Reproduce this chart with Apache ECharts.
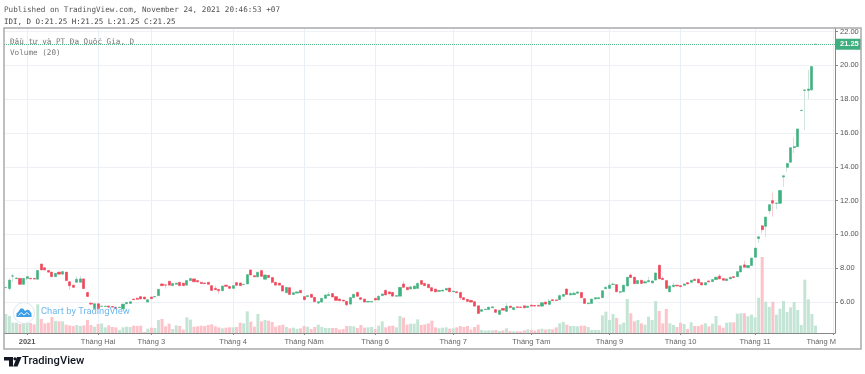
<!DOCTYPE html>
<html><head><meta charset="utf-8">
<style>html,body{margin:0;padding:0;background:#fff}#c{width:865px;height:374px}</style>
<script src="https://cdn.jsdelivr.net/npm/echarts@6/dist/echarts.min.js"></script>
</head><body><div id="c"></div>
<script>
const opens = [6.85,6.8,7.53,7.38,7.4,7.05,7.4,7.41,7.4,7.35,8.25,8.03,7.87,7.77,7.5,7.77,7.65,7.77,7.2,7.0,
7.17,7.17,7.37,6.57,5.93,5.62,5.9,5.75,5.74,5.76,5.74,5.7,5.68,5.6,5.9,5.92,6.18,6.22,6.32,6.3,
6.0,6.3,6.3,6.38,7.07,7.02,7.23,6.97,7.05,7.17,7.12,7.0,7.27,7.37,7.27,7.17,7.13,7.17,6.97,6.81,
6.75,6.67,7.0,6.93,6.81,7.15,7.13,7.03,7.07,7.9,7.56,7.49,7.86,7.35,7.58,7.45,7.17,7.12,6.97,6.55,
6.85,6.45,6.53,6.69,6.32,6.32,6.46,6.28,5.94,6.0,6.22,6.38,6.5,6.32,6.18,6.12,6.04,5.88,6.26,6.57,
6.26,6.18,6.0,6.01,6.22,6.12,6.38,6.69,6.6,6.57,6.34,6.35,7.07,6.87,6.77,6.78,6.81,7.27,7.1,7.05,
6.85,6.77,6.63,6.65,6.71,6.83,6.61,6.61,6.57,6.26,6.16,6.1,6.02,5.78,5.45,5.55,5.56,5.66,5.55,5.27,
5.62,5.45,5.76,5.56,5.72,5.71,5.78,5.68,5.82,5.8,5.81,5.76,6.0,5.86,6.14,6.13,6.14,6.34,6.77,
6.42,6.44,6.52,6.57,6.2,5.9,5.92,6.18,6.2,6.26,6.79,6.81,7.04,7.03,6.58,6.61,6.95,7.6,7.47,7.09,
7.29,7.13,7.2,7.13,7.3,8.18,7.4,7.27,6.61,6.91,7.0,6.97,6.99,7.15,7.17,7.35,7.35,7.15,7.01,7.25,
7.21,7.33,7.54,7.39,7.27,7.37,7.5,7.5,7.78,8.2,8.04,8.16,8.65,9.76,10.51,10.48,11.4,12.0,11.84,11.84,
13.4,13.97,14.27,15.13,15.19,17.33,18.52,18.52,18.55,21.25];
const closes = [6.87,7.3,7.55,7.42,7.05,7.4,7.5,7.37,7.36,7.87,7.9,7.9,7.77,7.5,7.7,7.65,7.8,7.27,6.97,6.87,
7.35,7.37,6.8,6.33,5.88,5.9,5.62,5.76,5.76,5.7,5.7,5.62,5.7,5.88,5.98,6.02,6.14,6.16,6.18,6.18,
6.14,6.2,6.33,6.75,6.97,7.0,7.0,7.1,7.12,6.97,6.97,7.27,7.39,7.2,7.19,7.09,7.09,7.05,6.69,6.73,
6.67,6.95,6.93,6.81,6.97,6.99,6.97,7.05,7.62,7.6,7.49,7.76,7.52,7.6,7.45,7.17,7.0,7.0,6.65,6.87,
6.45,6.55,6.6,6.55,6.14,6.38,6.28,6.02,6.02,6.22,6.42,6.45,6.3,6.1,6.08,6.06,5.84,6.26,6.46,6.34,
6.16,6.0,6.04,6.04,6.12,6.34,6.48,6.42,6.48,6.35,6.38,6.87,6.87,6.73,6.9,6.95,7.1,7.05,6.97,6.85,
6.65,6.6,6.69,6.71,6.81,6.61,6.65,6.55,6.26,6.14,6.04,6.0,5.76,5.33,5.55,5.58,5.7,5.72,5.39,5.52,
5.52,5.76,5.68,5.68,5.68,5.68,5.66,5.76,5.76,5.76,5.76,5.96,5.88,6.06,6.08,6.09,6.38,6.45,6.45,
6.5,6.52,6.6,6.26,5.92,5.94,6.18,6.26,6.26,6.67,6.87,7.0,7.06,6.61,6.62,7.0,7.47,7.45,7.09,7.27,
7.1,7.2,7.27,7.25,7.72,7.37,7.33,6.81,6.95,7.0,6.95,6.91,7.07,7.07,7.29,7.27,7.13,7.01,7.15,7.19,
7.33,7.47,7.37,7.29,7.37,7.47,7.45,7.8,8.14,8.06,8.16,8.6,9.19,9.86,10.28,11.03,11.76,11.85,11.86,12.6,
13.47,14.2,15.13,15.2,16.24,17.35,18.55,18.6,19.93,21.25];
const highValues = {1:7.4,2:7.68,3:7.48,10:8.27,18:7.22,20:7.5,21:7.55,24:6.03,29:5.8,37:6.3,38:6.36,44:7.12,46:7.25,47:7.12,51:7.3,52:7.45,59:6.97,71:7.8,72:7.9,73:7.62,91:6.6,92:6.52,97:6.3,99:6.6,105:6.4,107:6.75,112:7.25,114:6.85,116:7.15,117:7.3,122:6.7,141:5.95,151:6.0,153:6.2,156:6.45,158:6.8,159:6.6,160:6.62,169:6.95,170:7.18,171:7.17,176:7.7,180:7.3,181:7.5,183:7.75,184:8.2,185:7.5,188:7.15,191:7.1,193:7.2,195:7.4,199:7.35,200:7.5,201:7.66,205:7.52,208:8.45,212:9.88,213:10.55,216:12.47,218:12.62,222:15.74,225:18.54,226:19.73};
const lowValues = {1:6.67,2:7.2,6:7.3,18:6.72,22:6.78,24:5.8,26:5.55,45:6.8,49:6.95,58:6.65,60:6.47,75:7.1,88:5.9,96:5.75,97:5.85,128:6.12,133:5.3,141:5.4,142:5.6,143:5.5,151:5.72,172:6.6,173:6.45,174:6.6,186:6.8,187:6.58,212:9.5,213:10.05,214:9.85,215:11.2,216:11.05,217:11.5,218:11.8,219:12.82,220:13.7,221:14.25,222:14.8,224:17.3,225:16.18,226:18.0,227:18.5};
const volumes = [570,510,310,310,270,290,300,300,260,860,420,290,310,480,360,350,350,250,230,210,
240,210,230,390,240,190,270,290,170,230,180,170,90,170,190,180,220,210,220,30,
130,160,150,390,420,200,280,120,230,210,100,470,400,190,200,220,210,240,260,200,
170,140,160,170,170,180,310,290,650,340,190,570,350,390,370,330,190,230,250,180,
140,160,120,140,210,190,120,180,250,180,150,150,150,150,100,120,210,210,200,150,
240,160,170,180,120,220,350,170,210,220,170,510,460,250,280,280,410,240,260,290,
370,170,140,160,170,130,140,170,210,180,210,110,180,250,90,70,80,80,90,60,
80,140,60,50,50,50,80,110,90,70,110,130,100,120,110,170,290,330,250,210,
210,200,220,220,180,90,90,90,530,640,390,570,450,260,310,1020,590,350,390,290,
250,490,390,960,660,290,720,290,240,180,310,270,120,320,210,210,250,290,200,280,
510,230,160,310,320,320,580,590,590,500,550,470,1060,2280,940,780,940,550,730,960,
630,770,930,690,240,1600,1010,570,220];
const categoryCount = 234;
const monthTicks = {6:'2021',26:'Tháng Hai',41:'Tháng 3',64:'Tháng 4',84:'Tháng Năm',104:'Tháng 6',126:'Tháng 7',148:'Tháng Tám',170:'Tháng 9',190:'Tháng 10',211:'Tháng 11',233:'Tháng M'};
const priceTicks = [6,8,10,12,14,16,18,20,22];
const lastPrice = 21.25;

const UP='#3fb17f',DOWN='#ee4558',UP_P='#c4e5d5',DOWN_P='#fcc4ca',UP_W='#cfe5de',DOWN_W='#f9ccd2';
const cats = Array.from({length:categoryCount},(_,i)=>String(i));
const wickData = opens.map((o,i)=>{const c=closes[i];return [o,c,lowValues[i]??Math.min(o,c),highValues[i]??Math.max(o,c)];});
const bodyData = opens.map((o,i)=>{const c=closes[i];return [o,c,Math.min(o,c),Math.max(o,c)];});
const volData = volumes.map((v,i)=>({value:v,itemStyle:{color:closes[i]>=opens[i]?UP_P:DOWN_P}}));
const tickShow = (i)=>monthTicks[i]!==undefined;
const GRID='#e9f0f5';
const chart = echarts.init(document.getElementById('c'),null,{renderer:'canvas'});
chart.setOption({
 animation:false,backgroundColor:'#fff',
 grid:{left:4,top:28,width:831,height:305,containLabel:false},
 xAxis:{type:'category',data:cats,boundaryGap:true,
  axisLine:{lineStyle:{color:'#888',width:1}},
  axisTick:{show:true,interval:tickShow,alignWithLabel:true,length:2,lineStyle:{color:'#888'}},
  splitLine:{show:true,interval:tickShow,alignWithLabel:true,lineStyle:{color:GRID,width:1}},
  axisLabel:{interval:tickShow,margin:5,color:'#666',fontFamily:'Liberation Sans',fontSize:7.5,hideOverlap:false,
   formatter:(v)=>{const t=monthTicks[+v];if(t==='2021')return '{b|2021}';if(t==='Tháng M')return '{r|Tháng M}';return t;},
   rich:{b:{fontWeight:'bold',fontSize:7.5,color:'#555',fontFamily:'Liberation Sans'},
         r:{fontSize:7.5,color:'#666',fontFamily:'Liberation Sans',padding:[0,24,0,0]}}}},
 yAxis:[{type:'value',position:'right',min:4.17,max:22.21,scale:true,
   axisLine:{show:true,lineStyle:{color:'#888',width:1}},
   axisTick:{show:true,length:3,customValues:priceTicks,lineStyle:{color:'#888'}},
   splitLine:{show:true,lineStyle:{color:'#edf1f5',width:1}},
   axisLabel:{customValues:priceTicks,margin:5,color:'#555',fontFamily:'Liberation Sans',fontSize:7.5,formatter:(v)=>v.toFixed(2)}},
  {type:'value',min:0,max:9150,show:false,splitLine:{show:false}}],
 series:[
  {type:'bar',yAxisIndex:1,data:volData,barWidth:3,z:1,silent:true},
  {type:'candlestick',data:wickData,barWidth:1,z:2,silent:true,
   itemStyle:{color:UP_W,color0:DOWN_W,borderColor:UP_W,borderColor0:DOWN_W,borderWidth:1}},
  {type:'candlestick',data:bodyData,barWidth:2.6,z:3,silent:true,
   itemStyle:{color:UP,color0:DOWN,borderColor:UP,borderColor0:DOWN,borderWidth:0.6},
   markLine:{silent:true,symbol:'none',animation:false,z:4,
    lineStyle:{type:[1,1],color:'#53b987',width:1},
    data:[{yAxis:lastPrice}],
    label:{position:'end',distance:0,formatter:()=>lastPrice.toFixed(2),color:'#fff',fontWeight:'bold',fontFamily:'Liberation Sans',fontSize:7.5,backgroundColor:'#3fae7e',padding:[2,4,1,5],width:17,align:'left'}}}
 ],
 graphic:[
  {type:'rect',z:20,shape:{x:4,y:28,width:857,height:321},style:{fill:'none',stroke:'#aaa',lineWidth:1.5},silent:true},
  {type:'text',z:20,x:4,y:6,style:{text:'Published on TradingView.com, November 24, 2021 20:46:53 +07',fill:'#555',font:'7.65px "DejaVu Sans Mono"'}},
  {type:'text',z:20,x:4,y:18,style:{text:'IDI, D O:21.25 H:21.25 L:21.25 C:21.25',fill:'#444',font:'7.5px "DejaVu Sans Mono"'}},
  {type:'text',z:20,x:10,y:38,style:{text:'Đầu tư và PT Đa Quốc Gia, D',fill:'#777',font:'7.65px "DejaVu Sans Mono"'}},
  {type:'text',z:20,x:10,y:49,style:{text:'Volume (20)',fill:'#777',font:'7.65px "DejaVu Sans Mono"'}},
  {type:'circle',z:21,shape:{cx:24,cy:313,r:10.5},style:{fill:'rgba(255,255,255,0.9)',stroke:'#dde8ef',lineWidth:1}},
  {type:'polygon',z:22,shape:{points:[[16.5,317],[16.5,313.5],[18.5,311.5],[20.5,308.5],[23,308.5],[25,311],[27.5,309.5],[29.5,310.5],[31.5,313.5],[31.5,317]]},style:{fill:'#3d9ee8'}},
  {type:'polyline',z:23,shape:{points:[[18.5,315.5],[21,312.5],[24,315],[27,312.5],[29.5,315]]},style:{stroke:'#fff',fill:'none',lineWidth:0.9}},
  {type:'text',z:22,x:41,y:307,style:{text:'Chart by TradingView',fill:'#6db7ee',font:'9.4px Roboto'}},
  {type:'polygon',z:20,shape:{points:[[4,357],[13,357],[13,366.5],[9,366.5],[9,360.5],[4,360.5]]},style:{fill:'#131722'}},
  {type:'circle',z:20,shape:{cx:15,cy:358.8,r:1.6},style:{fill:'#131722'}},
  {type:'polygon',z:20,shape:{points:[[17,357],[21.5,357],[17.5,366.5],[13.2,366.5]]},style:{fill:'#131722'}},
  {type:'text',z:20,x:22,y:356,style:{text:'TradingView',fill:'#131722',font:'500 11.2px Roboto'}}
 ]
});
</script></body></html>
